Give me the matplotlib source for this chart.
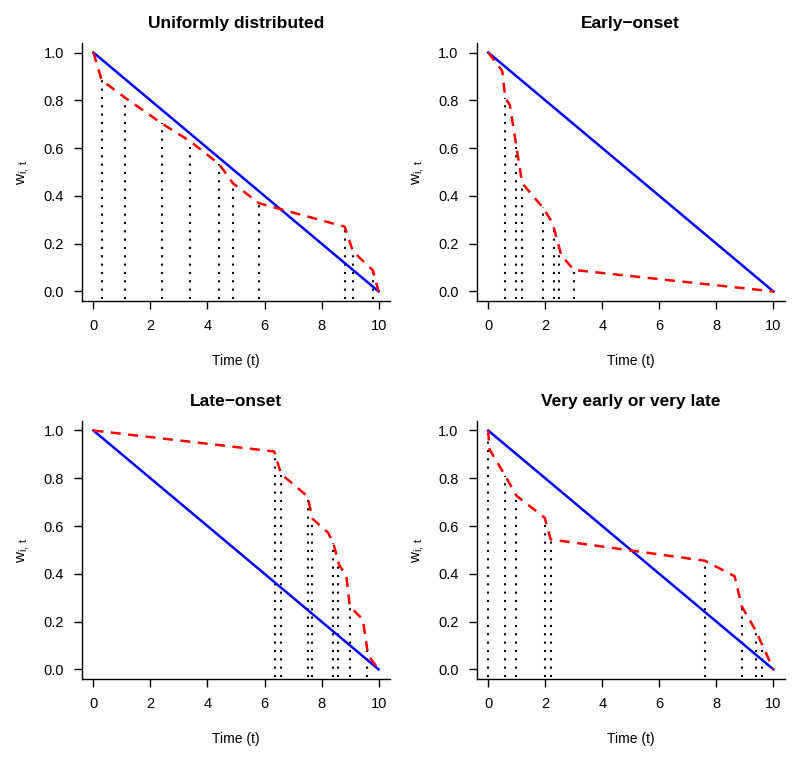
#
# Weight curves w_{i,t} for four event-time patterns:
# reference linear weight vs. observed weight with event markers
#

import numpy as np
import matplotlib
matplotlib.use("Agg")
import matplotlib.pyplot as plt

# reference (linear) weight
ref_t = [0, 10]
ref_w = [1.0, 0.0]

# uniformly distributed
uni_events = [0.29, 1.11, 2.40, 3.40, 4.40, 4.89, 5.81, 8.81, 9.10, 9.80]
uni_t = [0, 0.29, 1.11, 2.40, 3.40, 4.40, 4.89, 5.81, 8.81, 9.10, 9.80, 10]
uni_w = [1.0, 0.884, 0.811, 0.703, 0.628, 0.534, 0.453, 0.369, 0.271, 0.168, 0.088, 0.0]

# early-onset
early_events = [0.60, 0.99, 1.19, 1.91, 2.30, 2.49, 3.00]
early_t = [0, 0.49, 0.60, 0.76, 1.19, 1.94, 2.26, 2.56, 3.00, 10]
early_w = [1.0, 0.923, 0.81, 0.78, 0.453, 0.348, 0.285, 0.152, 0.090, 0.0]

# late-onset
late_events = [6.38, 6.58, 7.51, 7.68, 8.41, 8.58, 8.99, 9.60]
late_t = [0, 6.34, 6.58, 7.51, 7.68, 8.23, 8.41, 8.61, 8.87, 8.99, 9.45, 9.63, 10]
late_w = [1.0, 0.912, 0.818, 0.724, 0.631, 0.572, 0.530, 0.439, 0.390, 0.264, 0.208, 0.060, 0.0]

# very early or very late
both_events = [0.0, 0.60, 0.99, 1.98, 2.19, 7.59, 8.89, 9.39, 9.59]
both_t = [0, 0.05, 0.60, 0.99, 1.98, 2.19, 7.59, 8.64, 8.89, 9.39, 10]
both_w = [1.0, 0.92, 0.81, 0.727, 0.635, 0.544, 0.455, 0.390, 0.264, 0.160, 0.0]

panels = [
    ("Uniformly distributed", uni_events, uni_t, uni_w),
    ("Early\u2212onset", early_events, early_t, early_w),
    ("Late\u2212onset", late_events, late_t, late_w),
    ("Very early or very late", both_events, both_t, both_w),
]

xticks = [0, 2, 4, 6, 8, 10]
yticks = [0.0, 0.2, 0.4, 0.6, 0.8, 1.0]

plt.rcParams["font.family"] = ["Liberation Sans", "DejaVu Sans"]
plt.rcParams["mathtext.default"] = "regular"


def main():
    fig = plt.figure(figsize=(8.0, 7.62), dpi=100)
    lefts = [0.1025, 0.596]
    bottoms = [0.605, 0.109]
    w, h = 0.385, 0.3386

    for k, (title, events, t, wt) in enumerate(panels):
        ax = fig.add_axes([lefts[k % 2], bottoms[k // 2], w, h])
        ax.plot(ref_t, ref_w, color="#0000ff", lw=1.8, zorder=3)
        ax.plot(t, wt, color="#ff0000", lw=1.8, dashes=(4, 3), zorder=4)
        tops = np.interp(events, t, wt)
        ax.vlines(events, -0.03, tops, colors="black", lw=1.5,
                  linestyles=[(0, (1, 3))], zorder=2)

        ax.set_xlim(-0.4, 10.4)
        ax.set_ylim(-0.04, 1.04)
        ax.set_xticks(xticks)
        ax.set_yticks(yticks)
        ax.set_yticklabels(["%.1f" % v for v in yticks])
        ax.spines["top"].set_visible(False)
        ax.spines["right"].set_visible(False)
        for s in ["left", "bottom"]:
            ax.spines[s].set_linewidth(1.0)
        ax.tick_params(direction="out", length=6, width=1.0, pad=7,
                       labelsize=10.5)
        ax.set_xlabel("Time (t)", fontsize=10, labelpad=15)
        ax.set_ylabel(r"$w_{i,\,t}$", fontsize=11, labelpad=9)
        ax.set_title(title, fontsize=12.5, fontweight="bold", pad=11)

    fig.savefig("out.png", dpi=100)


if __name__ == "__main__":
    main()
